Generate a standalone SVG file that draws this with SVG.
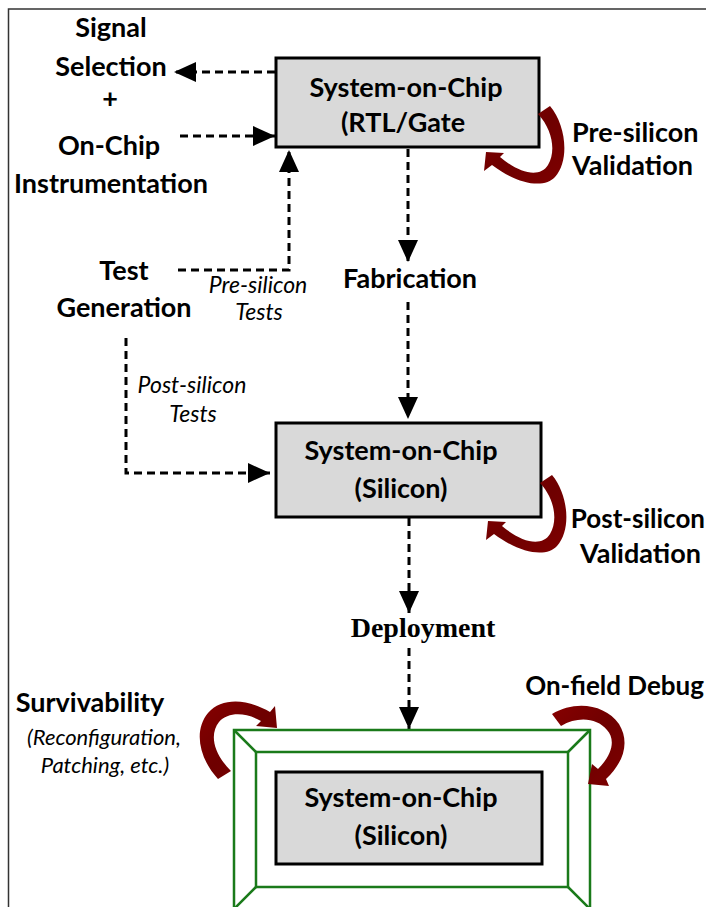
<svg xmlns="http://www.w3.org/2000/svg" width="706" height="907" viewBox="0 0 706 907">
  <defs>
    <style>
      .b { font-family: Lato, "Open Sans", sans-serif; font-weight: 700; font-size: 27px; fill: #000; text-anchor: middle; }
      .i { font-family: Lato, "Open Sans", sans-serif; font-style: italic; font-size: 23px; fill: #000; text-anchor: middle; }
      .s { font-family: "Liberation Serif", "Times New Roman", serif; font-weight: 700; font-size: 28px; fill: #000; text-anchor: middle; }
      .box { fill: #d9d9d9; stroke: #000; stroke-width: 3; }
      .dash { fill: none; stroke: #000; stroke-width: 3; stroke-dasharray: 8 5; }
      .frame { fill: none; stroke: #1a7a1a; stroke-width: 2.5; }
      .loop { fill: url(#loopGrad); }
    </style>
    <marker id="arrow" viewBox="0 0 22 20" refX="22" refY="10" markerWidth="22" markerHeight="20" markerUnits="userSpaceOnUse" orient="auto">
      <path d="M0,0 L22,10 L0,20 Z" fill="#000"/>
    </marker>
    <linearGradient id="loopGrad" x1="0" y1="0" x2="1" y2="1">
      <stop offset="0" stop-color="#860000"/>
      <stop offset="0.5" stop-color="#6e0000"/>
      <stop offset="1" stop-color="#7e0000"/>
    </linearGradient>
  </defs>

  <!-- page border (top and left) -->
  <path d="M8.5,907 L8.5,9 L706,9" fill="none" stroke="#333" stroke-width="1.5"/>

  <!-- connectors -->
  <g id="connectors">
    <line class="dash" x1="275" y1="72" x2="174" y2="72" marker-end="url(#arrow)"/>
    <line class="dash" x1="180" y1="136" x2="275" y2="136" marker-end="url(#arrow)"/>
    <polyline class="dash" points="178,270 289,270 289,150" marker-end="url(#arrow)"/>
    <polyline class="dash" points="126,338 126,473 270,473" marker-end="url(#arrow)"/>
    <line class="dash" x1="408" y1="149" x2="408" y2="262" marker-end="url(#arrow)"/>
    <line class="dash" x1="408" y1="302" x2="408" y2="419" marker-end="url(#arrow)"/>
    <line class="dash" x1="409" y1="518" x2="409" y2="613" marker-end="url(#arrow)"/>
    <line class="dash" x1="409" y1="648" x2="409" y2="729" marker-end="url(#arrow)"/>
  </g>

  <!-- side labels -->
  <g id="instrumentation">
    <text class="b" x="111" y="37">Signal</text>
    <text class="b" x="111" y="76">Selection</text>
    <text class="b" x="110" y="108">+</text>
    <text class="b" x="109" y="155">On-Chip</text>
    <text class="b" x="111" y="193">Instrumentation</text>
  </g>
  <g id="test-generation">
    <text class="b" x="124" y="280">Test</text>
    <text class="b" x="124" y="317">Generation</text>
  </g>
  <g id="labels-tests">
    <text class="i" x="258" y="293">Pre-silicon</text>
    <text class="i" x="259" y="320">Tests</text>
    <text class="i" x="192" y="393">Post-silicon</text>
    <text class="i" x="193" y="422">Tests</text>
  </g>

  <!-- SoC at RTL/gate level -->
  <g id="soc-rtl">
    <rect class="box" x="276" y="58" width="263" height="89"/>
    <text class="b" x="406" y="97">System-on-Chip</text>
    <text class="b" x="403" y="132">(RTL/Gate</text>
  </g>
  <g id="pre-silicon-validation">
    <path class="loop" d="M550,106 C566,125 570,160 555,177 C545,188 520,186 492,165 L484,171 L486,152 L504,153 L500,157 C520,174 540,178 548,165 C556,152 553,130 538,114 Z"/>
    <text class="b" x="572" y="142" style="text-anchor:start">Pre-silicon</text>
    <text class="b" x="572" y="175" style="text-anchor:start">Validation</text>
  </g>

  <g id="fabrication">
    <text class="b" x="410" y="288">Fabrication</text>
  </g>

  <!-- SoC silicon -->
  <g id="soc-silicon">
    <rect class="box" x="276" y="423" width="265" height="94"/>
    <text class="b" x="401" y="460">System-on-Chip</text>
    <text class="b" x="401" y="498">(Silicon)</text>
  </g>
  <g id="post-silicon-validation">
    <path class="loop" transform="translate(2,369)" d="M550,106 C566,125 570,160 555,177 C545,188 520,186 492,165 L484,171 L486,152 L504,153 L500,157 C520,174 540,178 548,165 C556,152 553,130 538,114 Z"/>
    <text class="b" x="705" y="528" style="text-anchor:end;font-size:26px">Post-silicon</text>
    <text class="b" x="580" y="563" style="text-anchor:start">Validation</text>
  </g>

  <g id="deployment">
    <text class="s" x="423" y="637">Deployment</text>
  </g>

  <!-- deployed SoC in its field enclosure -->
  <g id="soc-field">
    <rect class="frame" x="234" y="730" width="356" height="182"/>
    <rect class="frame" x="256" y="752" width="312" height="135"/>
    <path class="frame" d="M234,730 L256,752 M590,730 L568,752 M256,887 L234,909 M568,887 L590,909"/>
    <rect class="box" x="276" y="772" width="266" height="92"/>
    <text class="b" x="401" y="807">System-on-Chip</text>
    <text class="b" x="401" y="845">(Silicon)</text>
  </g>

  <g id="survivability">
    <path class="loop" d="M218,779 C198,757 194,730 208,713 C222,697 248,699 270,712 L275,706 L277,728 L256,726 L261,721 C245,712 228,712 219,722 C210,733 212,752 231,771 Z"/>
    <text class="b" x="90" y="712">Survivability</text>
    <text class="i" x="104" y="745" style="font-size:22px">(Reconfiguration,</text>
    <text class="i" x="105" y="773" style="font-size:22px">Patching, etc.)</text>
  </g>

  <g id="on-field-debug">
    <path class="loop" d="M552,714 C575,700 605,704 619,724 C630,742 624,762 606,779 L609,786 L588,784 L592,764 L598,769 C612,755 616,740 607,730 C597,718 578,716 561,726 Z"/>
    <text class="b" x="704" y="695" style="text-anchor:end;font-size:26px">On-field Debug</text>
  </g>
</svg>
